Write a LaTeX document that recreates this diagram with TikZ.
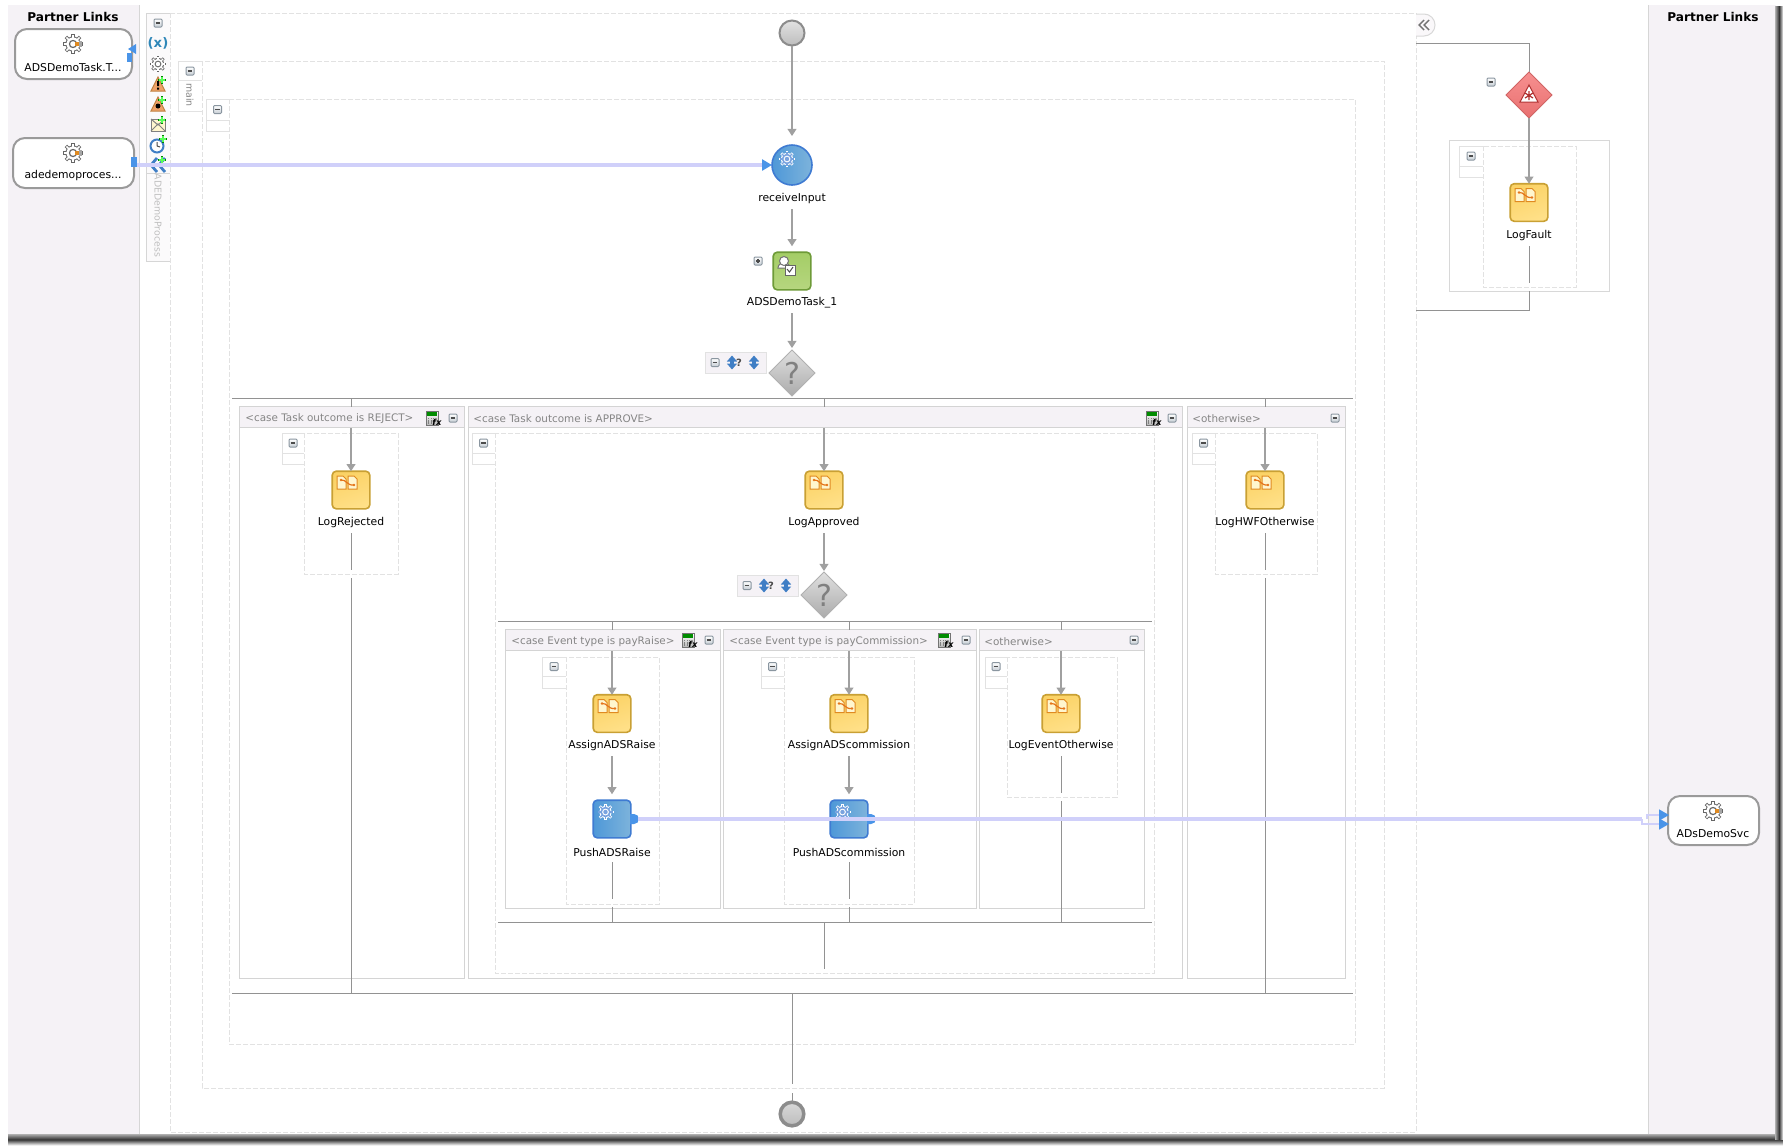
\documentclass[tikz,border=0pt]{standalone}
\usepackage{fontspec}
\setmainfont{DejaVu Sans}
\usetikzlibrary{arrows.meta,shapes.geometric,calc}
\definecolor{panel}{HTML}{F5F2F6}
\definecolor{dashc}{HTML}{E2E2E2}
\definecolor{casec}{HTML}{D4D4D4}
\definecolor{flow}{HTML}{A0A0A0}
\definecolor{flowd}{HTML}{929292}
\definecolor{linkc}{HTML}{D0D0FA}
\definecolor{tipc}{HTML}{4A94E8}
\definecolor{hdrtxt}{HTML}{858585}
\definecolor{C89B33}{HTML}{C9A034}
\definecolor{FCD064}{HTML}{FBD265}
\definecolor{FFE08F}{HTML}{FFE088}
\definecolor{3F7BD2}{HTML}{3F7BD2}
\definecolor{4E98D8}{HTML}{4E98D8}
\definecolor{7DB3DB}{HTML}{7DB3DB}
\definecolor{6E9B38}{HTML}{6E9B38}
\definecolor{A4CD66}{HTML}{A4CD66}
\definecolor{B6D67F}{HTML}{B6D67F}
\definecolor{9A9A9A}{HTML}{9A9A9A}
\definecolor{iconorange}{HTML}{E08A20}
\definecolor{iconcream}{HTML}{FFF6CF}
\definecolor{warnfill}{HTML}{EFA268}
\definecolor{C6CDD4}{HTML}{C6CDD4}
\definecolor{6F7C88}{HTML}{8A96A0}
\definecolor{B8B8B8}{HTML}{B8B8B8}
\definecolor{D0D0D0}{HTML}{D6D6D6}
\definecolor{C0C0C0}{HTML}{B0B0B0}
\definecolor{3A3A3A}{HTML}{333333}
\definecolor{E8E8E8}{HTML}{F0F0F0}
\definecolor{2F87B8}{HTML}{2F87B8}
\definecolor{D8D8D8}{HTML}{D8D8D8}
\definecolor{8C8C8C}{HTML}{8C8C8C}
\definecolor{E2E2E2}{HTML}{E2E2E2}
\definecolor{BDBDBD}{HTML}{BDBDBD}
\definecolor{A8A8A8}{HTML}{B0B0B0}
\definecolor{DADADA}{HTML}{E0E0E0}
\definecolor{B4B4B4}{HTML}{ABABAB}
\definecolor{C85A5A}{HTML}{D06464}
\definecolor{F58C8C}{HTML}{F79090}
\definecolor{E87070}{HTML}{E87070}
\definecolor{B03030}{HTML}{B03030}
\tikzset{
  px/.style={line width=#1*0.5pt},
  dashbox/.style={draw=dashc,dashed,dash pattern=on 2.5pt off 1pt,px=1},
  casebox/.style={draw=casec,px=1},
  arr/.style={draw=flow,px=1.2,-{Triangle[width=4.5pt,length=3.6pt,color=flow]}},
  flowline/.style={draw=flowd,px=1},
  rail/.style={draw=flowd,px=1},
  lbl/.style={font=\fontsize{5.4pt}{6pt}\selectfont,inner sep=0pt,outer sep=0pt,minimum height=10pt,yshift=-1pt,text=black},
  hdr/.style={font=\fontsize{5.2pt}{6pt}\selectfont,inner sep=0pt,anchor=west,yshift=-.7pt,text=hdrtxt},
  plk/.style={font=\bfseries\fontsize{6.05pt}{7pt}\selectfont,inner sep=0pt,yshift=-.3pt,text=black},
  actbox/.style={rounded corners=2pt,minimum width=18.8pt,minimum height=18.8pt,inner sep=0pt,outer sep=0pt,px=1.6},
  assignbox/.style={actbox,draw=C89B33,top color=FCD064,bottom color=FFE08F,shading angle=20},
  invokebox/.style={actbox,draw=3F7BD2,left color=4E98D8,right color=7DB3DB},
  taskbox/.style={actbox,draw=6E9B38,top color=A4CD66,bottom color=B6D67F},
  gwbox/.style={diamond,aspect=1,minimum width=23pt,minimum height=23pt,inner sep=0pt,outer sep=0pt,px=1},
  plbox/.style={draw=9A9A9A,fill=white,rounded corners=6pt,px=2,inner sep=0pt,outer sep=0pt},
  link/.style={draw=linkc,px=3.4},
  linktip/.style={draw=linkc,px=1.5,-{Triangle[width=5.5pt,length=5pt,color=tipc]}},
}
\newcommand\MinusBox[2]{\begin{scope}[shift={({#1},{#2})}]
  \shade[top color=white,bottom color=C6CDD4,draw=6F7C88,rounded corners=.5pt,px=1] (-4,-4) rectangle (4,4);
  \draw[black!70,px=1.3] (-2.4,0)--(2.4,0);\end{scope}}
\newcommand\PlusBadge[2]{\begin{scope}[shift={(#1,#2)}]
  \fill[green!50!black] (-3.6,-1.3) rectangle (3.6,1.3); \fill[green!50!black] (-1.3,-3.6) rectangle (1.3,3.6);
  \fill[green!65!white] (-2.6,-.7) rectangle (2.6,.7); \fill[green!65!white] (-.7,-2.6) rectangle (.7,2.6);\end{scope}}
\newcommand\Gear[6]{\begin{scope}[shift={(#1,#2)}]
  \foreach \a in {0,45,...,315} \draw[#4,line width=#3*0.17pt] (\a:#3*0.55)--(\a:#3);
  \fill[#4] (0,0) circle (#3*0.76);
  \foreach \a in {0,45,...,315} \draw[#5,line width=#3*0.08pt] (\a:#3*0.55)--(\a:#3*0.92);
  \fill[#5] (0,0) circle (#3*0.66);
  \fill[#4] (0,0) circle (#3*0.42);
  \fill[#6] (0,0) circle (#3*0.28);
  \end{scope}}
\newcommand\Pages[2]{\begin{scope}[shift={(#1,#2)}]
  \draw[draw=iconorange,fill=iconcream,px=1] (-14,-14) -- (-8,-14) -- (-5,-11) -- (-5,-1) -- (-14,-1) -- cycle;
  \draw[draw=iconorange,fill=iconcream,px=1] (-3,-14) -- (3,-14) -- (6,-11) -- (6,-1) -- (-3,-1) -- cycle;
  \draw[iconorange!85!red,px=1.2] (-10,-10) .. controls (-5,-11) and (-4,-4) .. (3,-5);
  \fill[iconorange!85!red] (-10,-10) circle (1.3) (3,-5) circle (1.3);
  \end{scope}}
\newcommand\UpDown[2]{\draw[tipc!85!black,line width=2pt,{Triangle[width=5pt,length=3pt]}-{Triangle[width=5pt,length=3pt]}] ({#1},{#2-7}) -- ({#1},{#2+7});}
\newcommand\GwTools[3]{\fill[panel] (#1,#2) rectangle ({#1+61},{#2+21});\draw[draw=dashc,px=1] (#1,#2) rectangle ({#1+61},{#2+21});
  \MinusBox{#1+10}{#2+10.5}
  \UpDown{#1+27}{#2+10.5}
  \node[inner sep=0pt,font=\bfseries\fontsize{5pt}{6pt}\selectfont,text=black!70] (#3) at ({#1+34},{#2+10.5}) {?};
  \UpDown{#1+49}{#2+10.5}}
\newcommand\SeqHead[5]{\draw[draw=dashc,px=1] (#2,#3) -- (#1,#3) -- (#1,#4) -- (#2,#4) (#1,#5) -- (#2,#5);
  \MinusBox{(#1+#2)/2}{(#3+#5)/2}}
\newcommand\Calc[3]{\begin{scope}[shift={(#1,#2)}]
  \shade[top color=white,bottom color=B8B8B8,draw=black!55,px=1] (-7,-7) rectangle (5,7);
  \fill[green!55!black] (-6,-6) rectangle (4,-2.5);
  \foreach \i in {-5,-2.5,0} \foreach \j in {0,2.2,4.4} \fill[black!50] (\i,\j) rectangle ({\i+1.3},{\j+1.3});
  \node[inner sep=0pt,font=\bfseries\itshape\fontsize{4.2pt}{5pt}\selectfont,text=black] (#3) at (4,4) {fx};
  \end{scope}}
\newcommand\CaseBox[5]{\draw[casebox,fill=white] (#1,#2) rectangle (#3,#4);
  \draw[casebox,fill=panel] (#1,#2) rectangle (#3,#5);}
\begin{document}
\begin{tikzpicture}[x=0.5pt,y=-0.5pt]
\useasboundingbox (0,0) rectangle (1783,1147);
\fill[white] (0,0) rectangle (1783,1147);
\begin{scope}[yshift=-0.5pt]
% side panels
\fill[panel] (8,4) rectangle (139,1135);
\fill[panel] (1648,4) rectangle (1776,1135);
\draw[draw=D0D0D0,px=1] (139.5,4) -- (139.5,1135);
\draw[draw=D0D0D0,px=1] (1648,4) -- (1648,1135);
% shadow
\shade[top color=C0C0C0,bottom color=E8E8E8,middle color=3A3A3A] (8,1133) rectangle (1783,1144);
\shade[left color=C0C0C0,right color=E8E8E8,middle color=3A3A3A] (1775,5) rectangle (1783,1138);
% process scopes
\draw[dashbox] (170,12) rectangle (1416,1131);
\draw[dashbox] (202,60) rectangle (1384,1087);
\draw[dashbox] (229,98) rectangle (1355,1043);
% toolbar
\fill[panel!40!white] (146,12) rectangle (170,260);
\draw[draw=D0D0D0,px=1] (170,12) -- (146,12) -- (146,260) -- (170,260) (146,172) -- (170,172);
\MinusBox{158}{22}
\node[inner sep=0pt,font=\bfseries\fontsize{6.6pt}{8pt}\selectfont,text=2F87B8] (tbx) at (158,42) {(x)};
\Gear{158}{63}{8}{black!60}{white}{white}
\fill[warnfill,draw=brown,px=1] (158,76) -- (165,90) -- (151,90) -- cycle; \fill[black] (157,80) rectangle (159,85) (157,86.5) rectangle (159,88.5); \PlusBadge{162}{79}
\fill[warnfill,draw=brown,px=1] (158,96) -- (165,110) -- (151,110) -- cycle; \fill[black] (158,105) circle (2.5); \PlusBadge{162}{99}
\draw[draw=black!50,fill=iconcream,px=1] (151,118) -- (165,118) -- (165,130) -- (151,130) -- cycle; \draw[draw=black!50,px=1] (151,130) -- (158,123) -- (165,130) (151,118) -- (158,124) -- (165,118); \PlusBadge{162}{119}
\draw[draw=tipc!85!black,fill=white,px=2] (157,145) circle (6.5); \draw[black!70,px=1] (157,145) -- (157,141) (157,145) -- (160,146); \PlusBadge{163}{138}
\draw[tipc!85!black,line width=1.4pt] (157,157) -- (151,164) -- (157,171) (165,157) -- (159,164) -- (165,171); \PlusBadge{162}{159}
\node[rotate=-90,inner sep=0pt,font=\fontsize{4.7pt}{6pt}\selectfont,text=black!25] (procname) at (158,214.5) {ADEDemoProcess};
% main header
\draw[draw=dashc,px=1] (202,60) -- (178,60) -- (178,110) -- (202,110) (178,79) -- (202,79);
\MinusBox{190}{70}
\node[rotate=-90,inner sep=0pt,font=\fontsize{4.7pt}{6pt}\selectfont,text=hdrtxt] (mainname) at (190,94) {main};
\SeqHead{206}{229}{98}{130}{119}
% partner link titles
\node[plk] (pl1) at (73,15) {Partner Links};
\node[plk] (pl2) at (1713,15) {Partner Links};
% partner boxes
\node[plbox,minimum width=58.5pt,minimum height=25pt] (ptask) at (73.5,53) {};
\node[plbox,minimum width=60.5pt,minimum height=25pt] (padede) at (73.5,162) {};
\node[plbox,minimum width=45.5pt,minimum height=24.5pt] (psvc) at (1713.5,819.5) {};
\Gear{73}{43}{10}{black!60}{white}{white}\fill[iconorange] (75,41) rectangle (79,45);\fill[black!35] (79,40) rectangle (82,46);
\Gear{73}{152}{10}{black!60}{white}{white}\fill[iconorange] (75,150) rectangle (79,154);\fill[black!35] (79,149) rectangle (82,155);
\Gear{1713}{810}{10}{black!60}{white}{white}\fill[iconorange] (1715,808) rectangle (1719,812);\fill[black!35] (1719,807) rectangle (1722,813);
\node[lbl] (ptaskl) at (73,64) {ADSDemoTask.T...};
\node[lbl] (padedel) at (73,173) {adedemoproces...};
\node[lbl] (psvcl) at (1713,831) {ADsDemoSvc};
% case boxes, outer switch
\CaseBox{239}{405}{464}{977}{426}
\CaseBox{468}{405}{1182}{977}{426}
\CaseBox{1187}{405}{1345}{977}{426}
\node[hdr] (c1t) at (245,416) {<case Task outcome is REJECT>};
\node[hdr] (c2t) at (473,416) {<case Task outcome is APPROVE>};
\node[hdr] (c3t) at (1192,416) {<otherwise>};
\Calc{433}{417}{fx1}\MinusBox{453}{417}
\Calc{1153}{417}{fx2}\MinusBox{1172}{417}
\MinusBox{1335}{417}
\draw[dashbox] (304,432) rectangle (398,573);
\SeqHead{282}{304}{432}{463}{452}
\draw[dashbox] (495,432) rectangle (1154,972);
\SeqHead{472}{495}{432}{463}{452}
\draw[dashbox] (1215,432) rectangle (1317,573);
\SeqHead{1192}{1215}{432}{463}{452}
% case boxes, inner switch
\CaseBox{505}{628}{720}{907}{649}
\CaseBox{723}{628}{976}{907}{649}
\CaseBox{979}{628}{1144}{907}{649}
\node[hdr] (c4t) at (511,639) {<case Event type is payRaise>};
\node[hdr] (c5t) at (729,639) {<case Event type is payCommission>};
\node[hdr] (c6t) at (984,639) {<otherwise>};
\Calc{689}{639}{fx3}\MinusBox{709}{639}
\Calc{945}{639}{fx4}\MinusBox{966}{639}
\MinusBox{1134}{639}
\draw[dashbox] (566,656) rectangle (659,903);
\SeqHead{542}{566}{656}{687}{675}
\draw[dashbox] (784,656) rectangle (914,903);
\SeqHead{761}{784}{656}{687}{675}
\draw[dashbox] (1007,656) rectangle (1117,796);
\SeqHead{985}{1007}{656}{687}{675}
% fault handler frame
\draw[draw=D8D8D8,px=1] (1449,139) rectangle (1609,290);
\draw[dashbox] (1483,145) rectangle (1576,286);
\SeqHead{1459}{1483}{145}{176}{165}
% collapse tab
\draw[draw=D8D8D8,fill=panel!50!white,px=1] (1416,13) -- (1424,13) arc (-90:90:11) -- (1416,35);
\draw[black!55,px=1.4] (1424,19) -- (1419,24) -- (1424,29) (1429,19) -- (1424,24) -- (1429,29);
% main activities
\node[circle,draw=8C8C8C,top color=E2E2E2,bottom color=BDBDBD,px=2,minimum size=12.5pt,inner sep=0pt,outer sep=0pt] (start) at (792,32) {};
\node[circle,draw=3F7BD2,left color=4E98D8,right color=7DB3DB,px=1.6,minimum size=20pt,inner sep=0pt,outer sep=0pt] (recv) at (792,164) {};
\Gear{787}{158}{8}{white}{3F7BD2!70!white}{3F7BD2!70!white}
\node[lbl] (recvl) at (792,196) {receiveInput};
\node[taskbox] (task) at (792,270) {};
\fill[white,draw=black!55,px=1] (778,267) .. controls (778,260) and (790,260) .. (790,267) -- cycle;
\fill[white,draw=black!55,px=1] (784,260) circle (4.5);
\draw[draw=black!60,fill=white,px=1] (785,264) rectangle (795,274);
\draw[black!70,px=1] (787,268) -- (789.5,271) -- (793,266);
\node[lbl] (taskl) at (792,300) {ADSDemoTask\_1};
\MinusBox{758}{260}\draw[black!70,px=1.3] (758,257.6) -- (758,262.4);
\node[gwbox,draw=A8A8A8,top color=DADADA,bottom color=B4B4B4,font=\fontsize{15pt}{16pt}\selectfont,text=black!50] (gw1) at (792,372) {?};
\GwTools{705}{351}{q1}
\coordinate (ra) at (232,397); \coordinate (rb) at (1353,397);
\draw[rail] (ra) -- (rb);
\coordinate (rc) at (232,992); \coordinate (rd) at (1353,992);
\draw[rail] (rc) -- (rd);
% case 1
\node[assignbox] (logrej) at (351,489) {}; \Pages{351}{489}
\node[lbl] (logrejl) at (351,520) {LogRejected};
% case 2
\node[assignbox] (logapp) at (824,489) {}; \Pages{824}{489}
\node[lbl] (logappl) at (824,520) {LogApproved};
\node[gwbox,draw=A8A8A8,top color=DADADA,bottom color=B4B4B4,font=\fontsize{15pt}{16pt}\selectfont,text=black!50] (gw2) at (824,594) {?};
\GwTools{737}{574}{q2}
\coordinate (rf) at (498,620); \coordinate (rg) at (1152,620);
\draw[rail] (rf) -- (rg);
\coordinate (rh) at (498,921); \coordinate (ri) at (1152,921);
\draw[rail] (rh) -- (ri);
% case 3
\node[assignbox] (loghwf) at (1265,489) {}; \Pages{1265}{489}
\node[lbl] (loghwfl) at (1265,520) {LogHWFOtherwise};
% inner cases
\node[assignbox] (asgr) at (612,712.5) {}; \Pages{612}{712.5}
\node[lbl] (asgrl) at (612,743) {AssignADSRaise};
\node[invokebox] (pushr) at (612,818) {}; \Gear{605.5}{811}{8}{white}{3F7BD2!70!white}{3F7BD2!70!white}
\node[lbl] (pushrl) at (612,849) {PushADSRaise};
\node[assignbox] (asgc) at (849,712.5) {}; \Pages{849}{712.5}
\node[lbl] (asgcl) at (849,743) {AssignADScommission};
\node[invokebox] (pushc) at (849,818) {}; \Gear{842.5}{811}{8}{white}{3F7BD2!70!white}{3F7BD2!70!white}
\node[lbl] (pushcl) at (849,849) {PushADScommission};
\node[assignbox] (logev) at (1061,712.5) {}; \Pages{1061}{712.5}
\node[lbl] (logevl) at (1061,743) {LogEventOtherwise};
% fault handler
\node[gwbox,draw=C85A5A,top color=F58C8C,bottom color=E87070] (fault) at (1529,94) {};
\draw[draw=B03030,fill=white,px=1] (1529,84) -- (1538,101) -- (1520,101) -- cycle;
\draw[B03030,px=1.2] (1529,90) -- (1529,99) (1525,92) -- (1533,97) (1533,92) -- (1525,97);
\MinusBox{1491}{81}
\node[assignbox] (logf) at (1529,201.5) {}; \Pages{1529}{201.5}
\node[lbl] (logfl) at (1529,233) {LogFault};
% flow connectors
\draw[arr,shorten >=4.5pt] (start) -- (recv.north);
\draw[arr,shorten >=3pt] (recvl.south) -- (task.north);
\draw[arr,shorten >=1pt] (taskl.south) -- (gw1.north);
\coordinate (t1) at (351,397); \coordinate (t2) at (824,397); \coordinate (t3) at (1265,397);
\draw[flowline] (t1) -- ++(0,9); \draw[flowline] (t3) -- ++(0,9); \draw[flowline] (t2) -- ++(0,9);
\coordinate (h1) at (351,427); \coordinate (h2) at (824,427); \coordinate (h3) at (1265,427);
\draw[arr] (h1) -- (logrej.north);
\draw[arr] (h2) -- (logapp.north);
\draw[arr] (h3) -- (loghwf.north);
\coordinate (e1) at (351,569); \coordinate (b1) at (351,577);
\draw[flowline] (logrejl.south) -- (e1); \draw[flowline] (b1) -- (351,992);
\coordinate (e3) at (1265,569); \coordinate (b3) at (1265,577);
\draw[flowline] (loghwfl.south) -- (e3); \draw[flowline] (b3) -- (1265,992);
\draw[arr,shorten >=.5pt] (logappl.south) -- (gw2.north);
\coordinate (i1) at (612,620); \coordinate (i2) at (849,620); \coordinate (i3) at (1061,620);
\draw[flowline] (i1) -- ++(0,9); \draw[flowline] (i2) -- ++(0,9); \draw[flowline] (i3) -- ++(0,9);
\coordinate (j1) at (612,650); \coordinate (j2) at (849,650); \coordinate (j3) at (1061,650);
\draw[arr] (j1) -- (asgr.north);
\draw[arr] (j2) -- (asgc.north);
\draw[arr] (j3) -- (logev.north);
\draw[arr,shorten >=3pt] (asgrl.south) -- (pushr.north);
\draw[arr,shorten >=3pt] (asgcl.south) -- (pushc.north);
\coordinate (k1) at (612,898); \coordinate (k1b) at (612,906); \coordinate (k2) at (849,898); \coordinate (k2b) at (849,906);
\draw[flowline] (pushrl.south) -- (k1); \draw[flowline] (k1b) -- (612,921);
\draw[flowline] (pushcl.south) -- (k2); \draw[flowline] (k2b) -- (849,921);
\coordinate (k3) at (1061,792); \coordinate (k3b) at (1061,800);
\draw[flowline] (logevl.south) -- (k3); \draw[flowline] (k3b) -- (1061,921);
\coordinate (m1) at (824,921); \coordinate (m2) at (824,968);
\draw[flowline] (m1) -- (m2);
\coordinate (n1) at (792,992); \coordinate (n2) at (792,1083); \coordinate (n3) at (792,1092);
\node[circle,draw=8C8C8C,top color=D8D8D8,bottom color=BDBDBD,px=3.5,minimum size=11.8pt,inner sep=0pt,outer sep=0pt] (stop) at (792,1113) {};
\draw[flowline] (n1) -- (n2); \draw[flowline] (n3) -- (stop.north);
% fault connectors
\coordinate (f0) at (1416,42); \coordinate (f1) at (1529,42);
\draw[rail] (f0) -- (f1) -- (fault.north);
\draw[arr] (fault.south) -- (logf.north);
\coordinate (f2) at (1529,282); \coordinate (f3) at (1529,290); \coordinate (f4) at (1529,309); \coordinate (f5) at (1416,309);
\draw[flowline] (logfl.south) -- (f2);
\draw[rail] (f3) -- (f4) -- (f5);
% partner links
\fill[tipc] (128,48) -- (136,43) -- (136,53) -- cycle;
\fill[tipc] (127,52) rectangle (132,61);
\fill[tipc] (131,156) rectangle (137,166);
\coordinate (pd) at (137,164);
\draw[link,-{Triangle[width=5.5pt,length=5pt,color=tipc]}] (pd) -- (recv.west);
\coordinate (fa) at (1642,818); \coordinate (fb) at (1647,818);
\coordinate (s1) at (1669,814); \coordinate (s2) at (1669,823);
\fill[tipc] (630,813) -- (634,813) arc (-90:90:5) -- (630,823) -- cycle;
\fill[tipc] (867,813) -- (871,813) arc (-90:90:5) -- (867,823) -- cycle;
\coordinate (lk1) at (638,818);
\draw[link] (lk1) -- (fa);
\draw[linktip] (fa) |- (s2);
\draw[linktip] (fb) |- (s1);
\end{scope}
\end{tikzpicture}
\end{document}
